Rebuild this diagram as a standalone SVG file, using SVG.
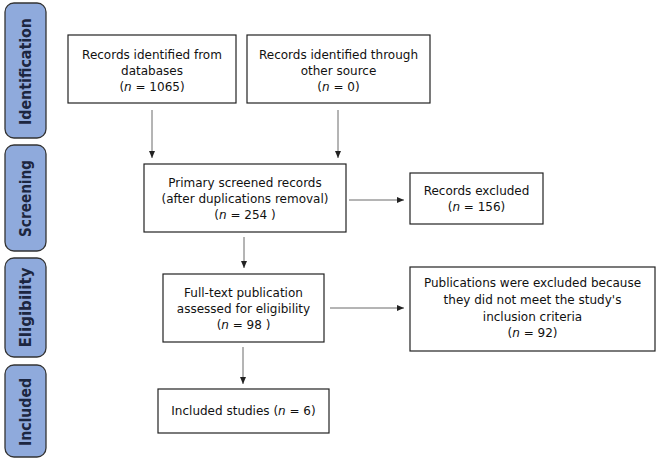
<svg xmlns="http://www.w3.org/2000/svg" width="661" height="462" viewBox="0 0 661 462">
<defs>
<style>
.stage rect{fill:#8faadc;stroke:#333;stroke-width:1.3}
.stage text{font-family:"DejaVu Sans",Verdana,sans-serif;font-weight:bold;font-size:15px;fill:#1c2640;text-anchor:middle}
.box rect{fill:#fff;stroke:#222;stroke-width:1.2}
.box text{font-family:"DejaVu Sans",Verdana,sans-serif;font-size:12px;fill:#111;text-anchor:middle}
.conn line{stroke:#444;stroke-width:0.8;fill:none;marker-end:url(#ah)}
</style>
<marker id="ah" markerWidth="8" markerHeight="8" refX="7" refY="4" orient="auto" markerUnits="userSpaceOnUse">
<path d="M0,1 L7,4 L0,7 Z" fill="#222"/>
</marker>
</defs>
<rect width="661" height="462" fill="#fff"/>
<g id="stage-identification" class="stage"><rect x="5" y="3" width="41" height="135" rx="9"/><text transform="translate(31,71.5) rotate(-90)" textLength="107" lengthAdjust="spacingAndGlyphs">Identification</text></g>
<g id="stage-screening" class="stage"><rect x="5" y="145" width="41" height="106" rx="9"/><text transform="translate(31,198.5) rotate(-90)" textLength="77" lengthAdjust="spacingAndGlyphs">Screening</text></g>
<g id="stage-eligibility" class="stage"><rect x="5" y="258" width="41" height="99" rx="9"/><text transform="translate(31,307.5) rotate(-90)" textLength="80" lengthAdjust="spacingAndGlyphs">Eligibility</text></g>
<g id="stage-included" class="stage"><rect x="5" y="365" width="41" height="92" rx="9"/><text transform="translate(31,412) rotate(-90)" textLength="68" lengthAdjust="spacingAndGlyphs">Included</text></g>

<g id="databases" class="box"><rect x="68" y="35" width="168" height="68"/><text x="152" y="59">Records identified from</text><text x="152" y="75">databases</text><text x="152" y="91">(<tspan font-style="italic">n</tspan> = 1065)</text></g>
<g id="other" class="box"><rect x="247" y="35" width="183" height="68"/><text x="338.5" y="59">Records identified through</text><text x="338.5" y="75">other source</text><text x="338.5" y="91">(<tspan font-style="italic">n</tspan> = 0)</text></g>
<g id="screened" class="box"><rect x="144" y="164" width="202" height="68"/><text x="245" y="187">Primary screened records</text><text x="245" y="203">(after duplications removal)</text><text x="245" y="219">(<tspan font-style="italic">n</tspan> = 254 )</text></g>
<g id="excluded" class="box"><rect x="410" y="173" width="133" height="51"/><text x="476.5" y="195">Records excluded</text><text x="476.5" y="211">(<tspan font-style="italic">n</tspan> = 156)</text></g>
<g id="fulltext" class="box"><rect x="163" y="274" width="161" height="68"/><text x="243.5" y="297">Full-text publication</text><text x="243.5" y="313">assessed for eligibility</text><text x="243.5" y="329">(<tspan font-style="italic">n</tspan> = 98 )</text></g>
<g id="pubexcluded" class="box"><rect x="410" y="267" width="245" height="84"/><text x="532.5" y="287">Publications were excluded because</text><text x="532.5" y="304">they did not meet the study's</text><text x="532.5" y="321">inclusion criteria</text><text x="532.5" y="337">(<tspan font-style="italic">n</tspan> = 92)</text></g>
<g id="included" class="box"><rect x="158" y="389" width="171" height="44"/><text x="243.5" y="415">Included studies (<tspan font-style="italic">n</tspan> = 6)</text></g>

<g id="connectors" class="conn">
<line x1="152" y1="110" x2="152" y2="158"/>
<line x1="338" y1="110" x2="338" y2="158"/>
<line x1="349" y1="200" x2="404" y2="200"/>
<line x1="244" y1="237" x2="244" y2="268"/>
<line x1="330" y1="308" x2="404" y2="308"/>
<line x1="243" y1="347" x2="243" y2="384"/>
</g>
</svg>
